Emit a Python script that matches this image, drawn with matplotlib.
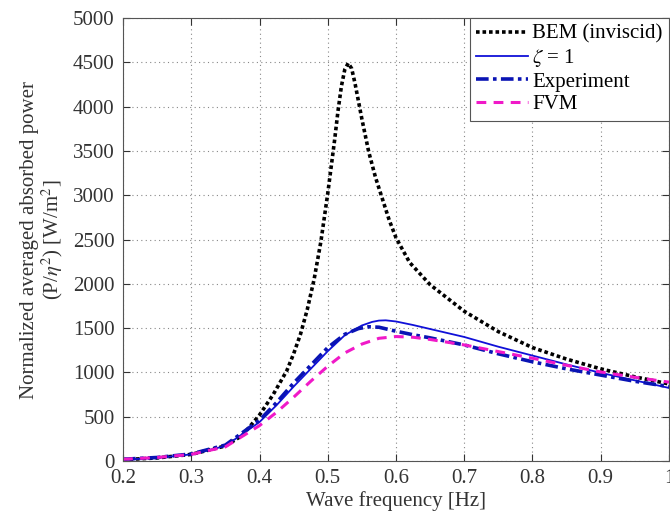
import numpy as np
import matplotlib.pyplot as plt

plt.rcParams['font.family'] = 'Liberation Serif'
plt.rcParams['mathtext.fontset'] = 'stix'

# BEM (inviscid)
f_bem = [0.20, 0.25, 0.30, 0.35, 0.375, 0.40, 0.42, 0.44, 0.45, 0.46, 0.47, 0.48,
         0.49, 0.50, 0.51, 0.515, 0.52, 0.525, 0.53, 0.535, 0.54, 0.545, 0.55,
         0.56, 0.57, 0.58, 0.59, 0.60, 0.62, 0.65, 0.70, 0.75, 0.80, 0.85, 0.90,
         0.95, 1.00]
p_bem = [15, 35, 75, 170, 290, 520, 750, 1020, 1210, 1430, 1710, 2050,
         2480, 3020, 3620, 3950, 4230, 4420, 4490, 4430, 4260, 4060, 3860,
         3490, 3200, 2960, 2720, 2520, 2240, 1990, 1690, 1460, 1280, 1150, 1040,
         950, 870]

# zeta = 1
f_z = [0.20, 0.25, 0.30, 0.35, 0.40, 0.425, 0.45, 0.475, 0.50, 0.525, 0.55, 0.565,
       0.575, 0.585, 0.60, 0.625, 0.65, 0.70, 0.75, 0.80, 0.85, 0.90, 0.95, 1.00]
p_z = [15, 35, 75, 170, 440, 630, 840, 1040, 1240, 1420, 1530, 1570,
       1585, 1588, 1575, 1535, 1490, 1400, 1290, 1190, 1090, 995, 910, 825]

# experiment
f_exp = [0.20, 0.25, 0.30, 0.35, 0.40, 0.425, 0.45, 0.475, 0.50, 0.525, 0.545,
         0.56, 0.575, 0.60, 0.625, 0.65, 0.70, 0.75, 0.80, 0.85, 0.90, 0.95, 1.00]
p_exp = [20, 40, 80, 180, 460, 660, 880, 1080, 1280, 1430, 1495,
         1515, 1510, 1465, 1425, 1390, 1310, 1210, 1120, 1040, 970, 900, 840]

# FVM
f_fvm = [0.20, 0.25, 0.30, 0.35, 0.40, 0.425, 0.45, 0.475, 0.50, 0.525, 0.55,
         0.575, 0.60, 0.625, 0.65, 0.70, 0.75, 0.80, 0.85, 0.90, 0.95, 1.00]
p_fvm = [20, 40, 75, 160, 400, 550, 720, 900, 1070, 1220, 1320,
         1385, 1405, 1397, 1372, 1310, 1235, 1160, 1080, 1005, 945, 890]

fig = plt.figure(figsize=(6.7, 5.23), dpi=100)
ax = fig.add_axes([0.1836, 0.1185, 0.8149, 0.8471])

ax.plot(f_bem, p_bem, color='black', ls=(0, (1, 0.8)), lw=2.6, label='BEM (inviscid)')
ax.plot(f_z, p_z, color='#1010d8', ls='-', lw=1.3, label=r'$\zeta$ = 1')
ax.plot(f_exp, p_exp, color='#0a14b4', ls=(0, (3.5, 1.2, 1, 1.2)), lw=2.6, label='Experiment')
ax.plot(f_fvm, p_fvm, color='#f019c8', ls=(0, (3.2, 2.4)), lw=2.2, label='FVM')

ax.set_xlim(0.2, 1.0)
ax.set_ylim(0, 5000)
ax.set_xticks(np.arange(0.2, 1.01, 0.1))
ax.set_xticklabels(['0.2', '0.3', '0.4', '0.5', '0.6', '0.7', '0.8', '0.9', '1'])
ax.set_yticks(np.arange(0, 5001, 500))
ax.grid(True, color='#888888', ls=(0, (1, 3)), lw=0.8)
ax.tick_params(direction='in', top=True, right=True, length=5, labelsize=15,
               colors='#333333', pad=6)
for s in ax.spines.values():
    s.set_color('#555555')

ax.set_xlabel('Wave frequency [Hz]', fontsize=15, color='#333333', labelpad=2)
ax.set_ylabel('Normalized averaged absorbed power\n' + r'(P/$\eta^2$) [W/m$^2$]',
              fontsize=15, color='#333333', linespacing=1.0, labelpad=6)

leg = ax.legend(loc='upper right', fontsize=15, handlelength=2.5, labelspacing=0.15,
                borderpad=0.3, handletextpad=0.2, borderaxespad=0.0, fancybox=False,
                framealpha=1)
leg.get_frame().set_edgecolor('#555555')
leg.get_frame().set_linewidth(0.8)

fig.savefig('out.png', dpi=100)
